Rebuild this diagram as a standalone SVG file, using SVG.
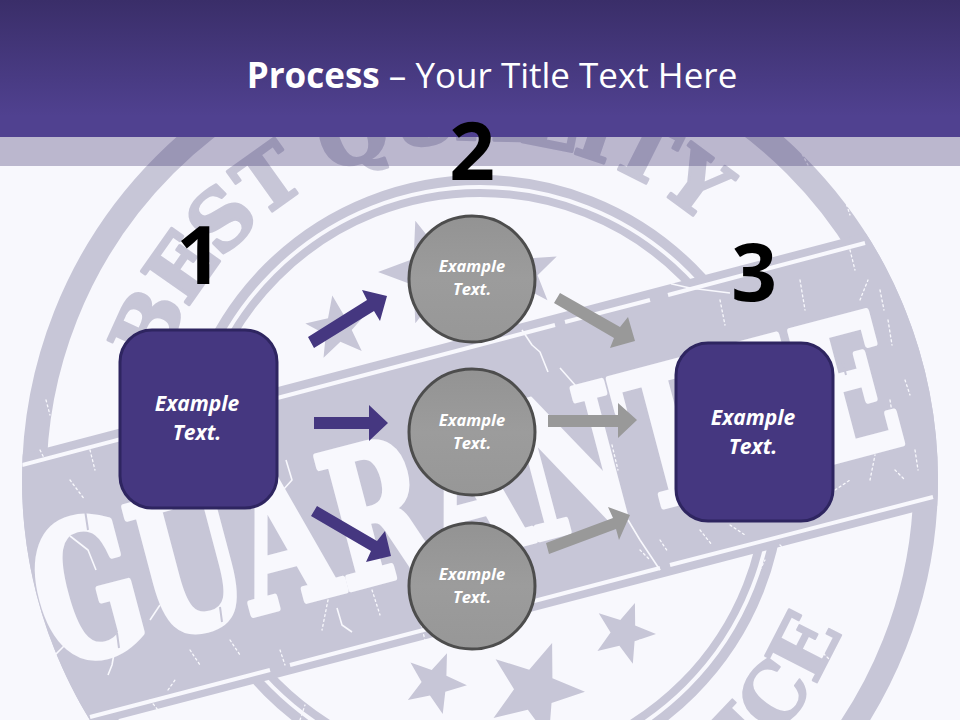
<svg xmlns="http://www.w3.org/2000/svg" xmlns:xlink="http://www.w3.org/1999/xlink" width="960" height="720" viewBox="0 0 960 720">
<style>
.ring{fill:none;stroke:#C7C6D7}
.gap{fill:none;stroke:#F8F8FD}
.stamp{fill:#C7C6D7}
.stxt{font-family:"DejaVu Serif",serif;font-weight:700;font-size:80px;letter-spacing:-2px;fill:#C7C6D7;stroke:#C7C6D7;stroke-width:3;stroke-linejoin:round}
.stxb{font-family:"DejaVu Serif",serif;font-weight:700;font-size:80px;fill:#C7C6D7;stroke:#C7C6D7;stroke-width:2;stroke-linejoin:round}
.guar{font-family:"DejaVu Serif",serif;font-weight:700;font-size:187px;fill:#F8F8FD;stroke:#F8F8FD;stroke-width:7;stroke-linejoin:round}
.scr{fill:none;stroke:#F8F8FD;stroke-width:1.3;stroke-linecap:round;stroke-dasharray:2 3}
.crack{fill:none;stroke:#F8F8FD;stroke-width:1.6;stroke-linejoin:round}
.brk{fill:none;stroke:#C7C6D7;stroke-width:2}
.num{font-family:"Open Sans",sans-serif;font-weight:700;font-size:80px;fill:#000;text-anchor:middle}
.box{fill:#453780;stroke:#2E2560;stroke-width:3}
.circ{fill:url(#cg);stroke:#4D4D4D;stroke-width:3}
.lb{font-family:"Open Sans",sans-serif;font-weight:700;font-style:italic;font-size:21px;fill:#fff;text-anchor:middle}
.ls{font-family:"Open Sans",sans-serif;font-weight:700;font-style:italic;font-size:16.5px;fill:#fff;text-anchor:middle}
.ab{fill:#453780}
.ag{fill:#999}
</style>
<defs>
<linearGradient id="hg" x1="0" y1="0" x2="0" y2="1"><stop offset="0" stop-color="#3A2E69"/><stop offset="0.85" stop-color="#504190"/></linearGradient>
<linearGradient id="cg" x1="0" y1="0" x2="0" y2="1"><stop offset="0" stop-color="#939393"/><stop offset="0.5" stop-color="#9C9C9C"/><stop offset="1" stop-color="#979797"/></linearGradient>
<path id="star" d="M0-1 .247-.34 .951-.309 .399.13 .588.809 0 .42-.588.809-.399.13-.951-.309-.247-.34Z"/>
<clipPath id="outer"><circle cx="480" cy="480" r="458"/></clipPath>
<path id="top" d="M161 368A337 337 0 0 1 790 345"/>
<path id="bot" d="M480 872A392 392 0 0 0 842 631"/>
</defs>
<rect width="960" height="720" fill="#F8F8FD"/>
<g id="stamp">
<circle class="ring" cx="480" cy="480" r="444" stroke-width="28"/>
<circle class="gap" cx="480" cy="480" r="431" stroke-width="5"/>
<circle class="ring" cx="480" cy="480" r="294" stroke-width="22"/>
<circle class="gap" cx="480" cy="480" r="293" stroke-width="4"/>
<g clip-path="url(#outer)">
<polygon class="stamp" points="0,460 960,208 960,500 0,750"/>
<path class="gap" stroke-width="4" d="M22 465 555 325M565 322 650 300M668 295 865 243M90 717 270 670M290 665 660 568M670 565 933 497"/>
</g>
<text class="stxt"><textPath xlink:href="#top" href="#top">BEST QUALITY</textPath></text>
<text class="stxb" text-anchor="end"><textPath xlink:href="#bot" href="#bot" startOffset="100%">ICE</textPath></text>
<use href="#star" class="stamp" transform="translate(338 328) rotate(-10) scale(33)"/>
<use href="#star" class="stamp" transform="translate(432 272) rotate(-18) scale(54)"/>
<use href="#star" class="stamp" transform="translate(522 272) rotate(-6) scale(38)"/>
<use href="#star" class="stamp" transform="translate(435 683) rotate(22) scale(32)"/>
<use href="#star" class="stamp" transform="translate(535 690) rotate(20) scale(50)"/>
<use href="#star" class="stamp" transform="translate(624 633) rotate(20) scale(32)"/>
<text class="guar" transform="translate(54 667) rotate(-14.8)" textLength="884" lengthAdjust="spacingAndGlyphs">GUARANTEE</text>
<path class="brk" d="M85 510 88 530M117 633 119 648M220 607 222 622M842 360 846 375M700 500 704 515"/>
<path class="crack" d="M660 275 672 284 690 288 730 293M522 330 532 345 540 352 548 372M560 368 575 385 584 398M628 520 640 540 650 555 660 570M70 536 88 550 96 570M283 490 292 480 286 460M337 608 342 625 352 632M115 648 112 665 108 675M55 655 70 640M160 605 150 620"/>
<path class="scr" d="M60 250 64 262M118 265 128 250M46 400 50 415M70 480 85 500M90 450 95 470M150 520 162 535M200 470 210 490M190 650 200 665M230 640 240 655M280 650 285 665M330 590 322 630M372 590 380 615M420 620 425 640M168 690 175 680M150 700 158 710M60 620 65 632M500 500 505 515M612 445 618 470M640 550 650 560M660 540 668 552M700 530 712 545M730 525 745 535M800 510 812 485M835 490 850 480M870 480 875 455M895 470 905 480M890 400 894 425M905 380 910 395M915 450 918 470M905 560 900 580M885 600 890 615M820 650 830 660M860 640 865 655M720 300 725 325M800 280 805 310M850 250 855 270M860 300 868 280M830 170 838 180M800 150 808 165M845 200 850 215M880 290 884 310M888 320 892 345M300 720 305 705M760 570 765 560M780 545 790 555M205 280 210 285M90 330 96 340M100 300 110 310M40 450 45 460M230 710 240 716M640 640 648 650"/>
</g>
<rect id="strip" y="137" width="960" height="29" fill="#3F3570" fill-opacity="0.33"/>
<rect id="header" width="960" height="137" fill="url(#hg)"/>
<text id="title" x="492" y="88" font-family="Open Sans, sans-serif" font-size="35" fill="#fff" text-anchor="middle"><tspan font-weight="700">Process</tspan> – Your Title Text Here</text>
<g id="connectors">
<polygon class="ab" points="308,337 367,300 362,290 387,296 380,321 374,311 314,348"/>
<polygon class="ab" points="314,417 369,417 369,405 388,423 369,441 369,429 314,429"/>
<polygon class="ab" points="317,506 377,541 385,531 391,556 366,562 371,551 311,516"/>
<polygon class="ag" points="560,293 620,327 628,317 635,341 610,348 614,338 554,303"/>
<polygon class="ag" points="548,415 618,415 618,403 637,420 618,438 618,427 548,427"/>
<polygon class="ag" points="546,543 613,518 608,507 630,515 619,540 616,529 549,554"/>
</g>
<g id="node1"><rect class="box" x="120" y="330" width="157" height="178" rx="32"/><text class="lb" x="197" y="411">Example</text><text class="lb" x="197" y="440">Text.</text><text class="num" x="199" y="284">1</text></g>
<g id="node2"><circle class="circ" cx="472" cy="279" r="63"/><text class="ls" x="472" y="272">Example</text><text class="ls" x="472" y="295">Text.</text><text class="num" x="472" y="180">2</text></g>
<g id="node3"><circle class="circ" cx="472" cy="432" r="63"/><text class="ls" x="472" y="426">Example</text><text class="ls" x="472" y="449">Text.</text></g>
<g id="node4"><circle class="circ" cx="472" cy="586" r="63"/><text class="ls" x="472" y="580">Example</text><text class="ls" x="472" y="603">Text.</text></g>
<g id="node5"><rect class="box" x="676" y="343" width="157" height="178" rx="32"/><text class="lb" x="753" y="425">Example</text><text class="lb" x="753" y="454">Text.</text><text class="num" x="754" y="301">3</text></g>
</svg>
